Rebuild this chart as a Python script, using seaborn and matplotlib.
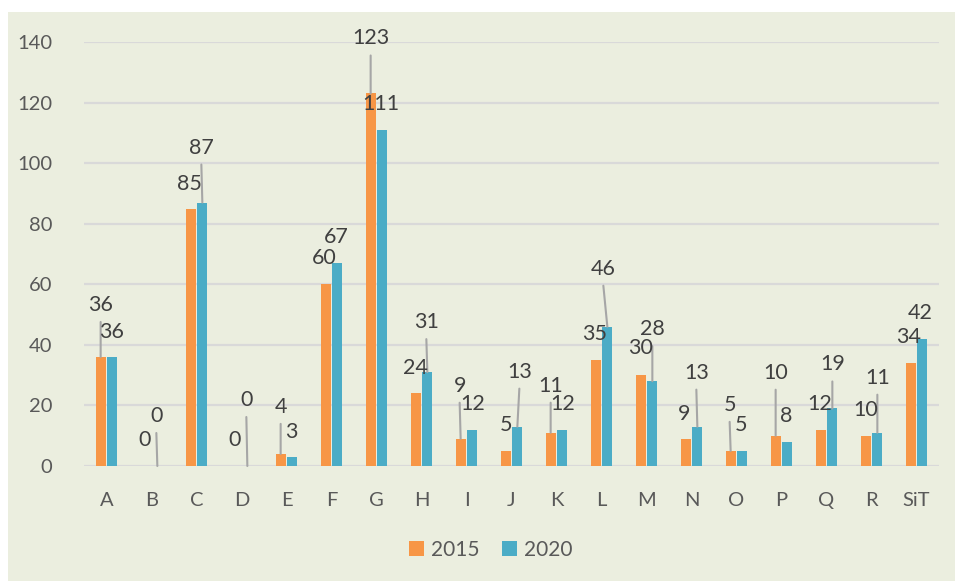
import pandas as pd
import seaborn as sns
import matplotlib
matplotlib.use('Agg')
import matplotlib.pyplot as plt
from matplotlib.patches import Rectangle, Patch

# -------------------------------------------------
# data
# -------------------------------------------------
categories = ["A", "B", "C", "D", "E", "F", "G", "H", "I", "J",
              "K", "L", "M", "N", "O", "P", "Q", "R", "SiT"]
years = ["2015", "2020"]
values_2015 = [36, 0, 85, 0, 4, 60, 123, 24, 9, 5, 11, 35, 30, 9, 5, 10, 12, 10, 34]
values_2020 = [36, 0, 87, 0, 3, 67, 111, 31, 12, 13, 12, 46, 28, 13, 5, 8, 19, 11, 42]

# label offsets (pixels: dx, dy above the bar top), like the dragged Excel labels
offsets_2015 = [(0, 52), (-1, 26), (-1, 25), (-1, 26), (0, 47), (-1, 26), (0, 55),
                (0, 25), (-1, 53), (0, 26), (0, 47), (-1, 26), (0, 27), (-2, 25),
                (-1, 46), (0, 63), (-1, 26), (0, 26), (-2, 26)]
offsets_2020 = [(-1, 25), (-1, 50), (-1, 55), (-1, 66), (-1, 25), (-1, 26), (-1, 26),
                (-1, 50), (0, 26), (2, 55), (0, 26), (-4, 58), (0, 52), (-1, 54),
                (-1, 26), (-1, 26), (0, 44), (0, 55), (-2, 26)]

df = pd.DataFrame({
    "cat": categories * 2,
    "year": [years[0]] * len(categories) + [years[1]] * len(categories),
    "val": values_2015 + values_2020,
})

colors = {"2015": "#F79646", "2020": "#4BACC6"}
bg = "#EBEEDF"
grid_c = "#D9D9D9"
label_c = "#404040"
tick_c = "#595959"
leader_c = "#A6A6A6"

sns.set_style("white")
plt.rcParams["font.family"] = ["Lato", "DejaVu Sans"]

fig = plt.figure(figsize=(9.55, 5.81), dpi=100, facecolor="white")
fig.patches.append(Rectangle((8 / 955, 0), 1, 1 - 12 / 581, transform=fig.transFigure,
                             facecolor=bg, edgecolor="none", zorder=-10))
ax = fig.add_axes([84 / 955, 115 / 581, (939 - 84) / 955, 424 / 581])
ax.set_facecolor(bg)
ax.patch.set_alpha(0)

sns.barplot(data=df, x="cat", y="val", hue="year", palette=colors, ax=ax,
            width=0.52, gap=0.15, linewidth=0, saturation=1, legend=False, zorder=3)

ax.set_ylim(0, 140)
ax.set_xlim(-0.5, len(categories) - 0.5)
ax.set_yticks(range(0, 141, 20))
ax.yaxis.grid(True, color=grid_c, linewidth=1.6, zorder=0)
ax.set_axisbelow(True)
for s in ax.spines.values():
    s.set_visible(False)
ax.axhline(0, color=grid_c, linewidth=2, zorder=2)
ax.tick_params(axis="y", length=0, pad=23, labelsize=14.5, labelcolor=tick_c)
ax.tick_params(axis="x", length=0, pad=19, labelsize=14.5, labelcolor=tick_c)
ax.set_xlabel("")
ax.set_ylabel("")

# data labels with leader lines
for cont, vals, offs in zip(ax.containers, [values_2015, values_2020],
                            [offsets_2015, offsets_2020]):
    for bar, v, (dx, dy) in zip(cont.patches, vals, offs):
        x = bar.get_x() + bar.get_width() / 2
        if dy > 35:
            ax.annotate("", xy=(x, v), xytext=(dx, dy - 17), textcoords="offset pixels",
                        arrowprops=dict(arrowstyle="-", color=leader_c, lw=1.5,
                                        shrinkA=0, shrinkB=0), zorder=4)
        ax.annotate(str(v), xy=(x, v), xytext=(dx, dy), textcoords="offset pixels",
                    ha="center", va="center", fontsize=15.5, color=label_c,
                    annotation_clip=False, zorder=5)

handles = [Patch(facecolor=colors[y], edgecolor="none", label=y) for y in years]
fig.legend(handles=handles, loc="center", bbox_to_anchor=(491 / 955, 1 - 550 / 581),
           ncol=2, frameon=False, fontsize=15, handlelength=0.7, handleheight=0.7,
           handletextpad=0.35, columnspacing=1.1, labelcolor=tick_c)

fig.savefig("out.png", dpi=100, facecolor="white")
